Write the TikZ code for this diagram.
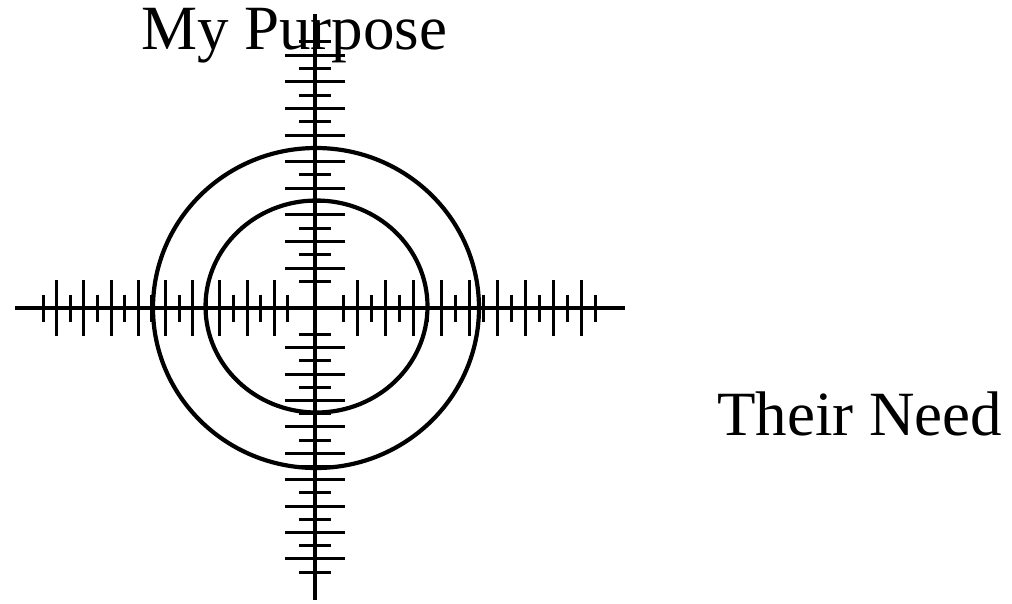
\documentclass[tikz,border=0pt]{standalone}
\usepackage{fontspec}
\setmainfont{Liberation Serif}
\usetikzlibrary{calc}
\begin{document}
\begin{tikzpicture}[x=1pt,y=-1pt,
  axis/.style={line width=3.6pt,black},
  tickmark/.style={line width=3pt,black},
  ring/.style={line width=4.2pt,black},
  label/.style={font=\fontsize{63}{70}\selectfont,anchor=base west,inner sep=0pt}]
\useasboundingbox (0,0) rectangle (1012,604);
\coordinate (c) at (315,308);
% labels
\node[label] (purpose) at (141,50) {My Purpose};
\node[label] (need) at (717,435) {Their Need};
% axes
\coordinate (w) at (15,308);
\coordinate (e) at (625,308);
\coordinate (n) at (315,14);
\coordinate (s) at (315,600);
\draw[axis] (w) -- (e);
\draw[axis] (n) -- (s);
% horizontal axis ticks
\foreach \k in {2,...,20}{
  \pgfmathsetmacro{\h}{isodd(\k) ? 28 : 13.5}
  \draw[tickmark] ($(c)+(14*\k,-\h)$) -- ($(c)+(14*\k,\h)$);
  \draw[tickmark] ($(c)+(-13.6*\k,-\h)$) -- ($(c)+(-13.6*\k,\h)$);
}
% vertical axis ticks
\foreach \k in {2,...,20}{
  \pgfmathsetmacro{\h}{isodd(\k) ? 30 : 16}
  \draw[tickmark] ($(c)+(-\h,-13.3*\k)$) -- ($(c)+(\h,-13.3*\k)$);
  \draw[tickmark] ($(c)+(-\h,13.2*\k)$) -- ($(c)+(\h,13.2*\k)$);
}
% rings
\draw[ring] (316,308) ellipse [x radius=163, y radius=160];
\draw[ring] (316.5,306.5) ellipse [x radius=111, y radius=106];
\end{tikzpicture}
\end{document}
